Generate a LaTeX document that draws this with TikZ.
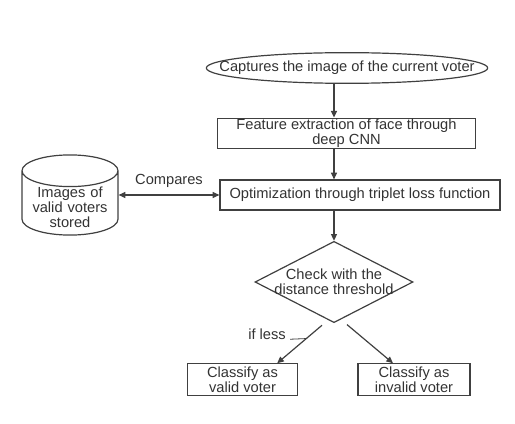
\documentclass[tikz,border=0pt]{standalone}
\usepackage{fontspec}
\setmainfont{Liberation Sans}
\usetikzlibrary{positioning,arrows.meta,shapes.geometric}

\begin{document}
\begin{tikzpicture}[
  x=0.75pt,y=-0.75pt,
  >={Triangle[length=5pt,width=4.5pt]},
  font=\fontsize{11}{11}\selectfont,
  every node/.style={inner sep=0pt,text=black!80},
  txt/.style={label={[align=center,text=black!80]center:#1}},
  stepbox/.style={draw=black!75,line width=0.9pt,rectangle,align=center},
  startell/.style={draw=black!75,line width=0.9pt,ellipse},
  store/.style={draw=black!75,line width=0.9pt,cylinder,shape border rotate=90,
    aspect=0.33,text width=62pt,align=center,inner xsep=5pt},
  decide/.style={draw=black!75,line width=0.9pt,diamond},
  flow/.style={->,draw=black!75,line width=0.9pt}
]
\useasboundingbox (0,0) rectangle (515,424);

% Main column
\node[startell,minimum width=211pt,minimum height=23pt,
  txt={Captures the image of the current voter}] (capt) at (347,68) {};
\node[stepbox,minimum width=193pt,minimum height=23pt] (feat) at (346.5,133.5)
  {Feature extraction of face through\\deep CNN};
\node[stepbox,minimum width=210pt,minimum height=22.5pt] (opt) at (360,195)
  {Optimization through triplet loss function};
\node[decide,minimum width=118.5pt,minimum height=61pt,
  txt={Check with the\\distance threshold}] (chk) at (334,282) {};

% Stored images
\node[store,minimum height=59pt,anchor=shape center] (db) at (70,195)
  {Images of\\valid voters\\stored};

% Results
\node[stepbox,minimum width=83pt,minimum height=23.5pt] (valid) at (242.5,379.5)
  {Classify as\\valid voter};
\node[stepbox,minimum width=84pt,minimum height=23.5pt] (invalid) at (414,379.5)
  {Classify as\\invalid voter};

% Arrows down the column
\draw[flow] (capt.south -| chk.north) -- (feat.north -| chk.north);
\draw[flow] (feat.south -| chk.north) -- (opt.north -| chk.north);
\draw[flow] (opt.south -| chk.north) -- (chk.north);

% Comparison with the stored images
\draw[flow,<->] (db.east |- opt.west) -- node[above=5pt] (cmp) {Compares} (opt.west);

% Decision arrows
\draw[flow] ([xshift=-9pt,yshift=-1.5pt]chk.south)
  -- coordinate[pos=0.35] (lessPt) ([xshift=26pt]valid.north);
\draw[flow] ([xshift=9.75pt,yshift=-1pt]chk.south) -- ([xshift=-15.75pt]invalid.north);

\node (less) at (267,334) {if less};
\draw[draw=black!75,line width=0.6pt] ([xshift=3pt]less.base east) -- (lessPt);

\end{tikzpicture}
\end{document}
